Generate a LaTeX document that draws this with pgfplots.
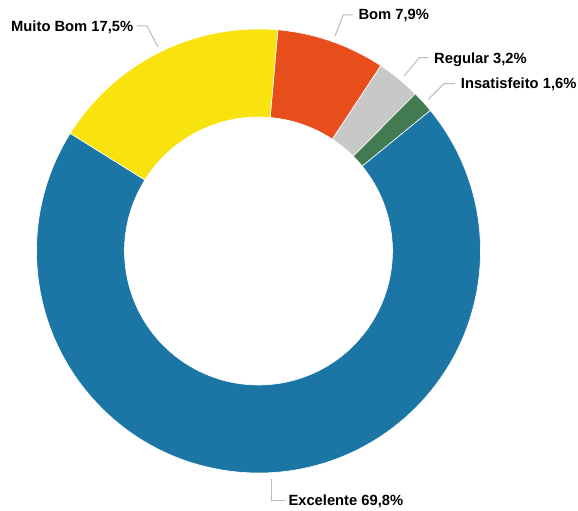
\documentclass[border=0pt]{standalone}
\usepackage{fontspec}
\setmainfont{Liberation Sans}
\usepackage{pgfplots}
\usepackage{pgfplotstable}
\pgfplotsset{compat=1.18}
\definecolor{cBom}{HTML}{E84E1C}
\definecolor{cReg}{HTML}{C8C8C8}
\definecolor{cIns}{HTML}{427A52}
\definecolor{cExc}{HTML}{1B76A6}
\definecolor{cMB}{HTML}{F8E30F}
\definecolor{lead}{HTML}{BBBBBB}
\pgfplotstableread[col sep=comma]{
label,value,color
Bom,7.9,cBom
Regular,3.2,cReg
Insatisfeito,1.6,cIns
Excelente,69.8,cExc
Muito Bom,17.5,cMB
}\datatable
\begin{document}
\begin{tikzpicture}
\begin{axis}[x=1bp, y=1bp, xmin=0, xmax=578, ymin=0, ymax=511,
  hide axis, clip=false, anchor=origin, at={(0,0)}]
\path (axis cs:0,0) rectangle (axis cs:578,511);
\pgfplotstablegetrowsof{\datatable}
\pgfmathtruncatemacro\N{\pgfplotsretval-1}
\gdef\cum{85}
\pgfplotsforeachungrouped \i in {0,...,\N}{%
  \pgfplotstablegetelem{\i}{value}\of\datatable \let\v\pgfplotsretval
  \pgfplotstablegetelem{\i}{color}\of\datatable \let\c\pgfplotsretval
  \pgfmathsetmacro\e{\cum-3.6*\v}%
  \edef\temp{\noexpand\fill[\c, draw=white, line width=0.6bp] (axis cs:{258.5+222*cos(\cum)},{260+222*sin(\cum)}) arc[start angle=\cum, end angle=\e, radius=222bp] -- (axis cs:{258.5+134*cos(\e)},{260+134*sin(\e)}) arc[start angle=\e, end angle=\cum, radius=134bp] -- cycle;}%
  \temp
  \global\let\cum\e
}
\tikzset{lab/.style={anchor=base west, inner sep=0pt, font=\fontsize{14.8}{17}\selectfont\bfseries, text=black},
  ld/.style={draw=lead, line width=1bp}}
\draw[ld] (axis cs:137,485) -- (axis cs:147,485) -- (axis cs:158,464);
\node[lab] at (axis cs:11,479.3) {Muito Bom 17,5\%};
\draw[ld] (axis cs:353.3,496) -- (axis cs:343.3,496) -- (axis cs:335,475);
\node[lab] at (axis cs:358.3,491) {Bom 7,9\%};
\draw[ld] (axis cs:428.3,453.3) -- (axis cs:419.3,453.3) -- (axis cs:404,435);
\node[lab] at (axis cs:434,447) {Regular 3,2\%};
\draw[ld] (axis cs:455,427.3) -- (axis cs:444,427.3) -- (axis cs:428.3,411.7);
\node[lab] at (axis cs:460.7,422.7) {Insatisfeito 1,6\%};
\draw[ld] (axis cs:271,31.7) -- (axis cs:271,10) -- (axis cs:285,10);
\node[lab] at (axis cs:288.3,5.3) {Excelente 69,8\%};
\end{axis}
\end{tikzpicture}
\end{document}
